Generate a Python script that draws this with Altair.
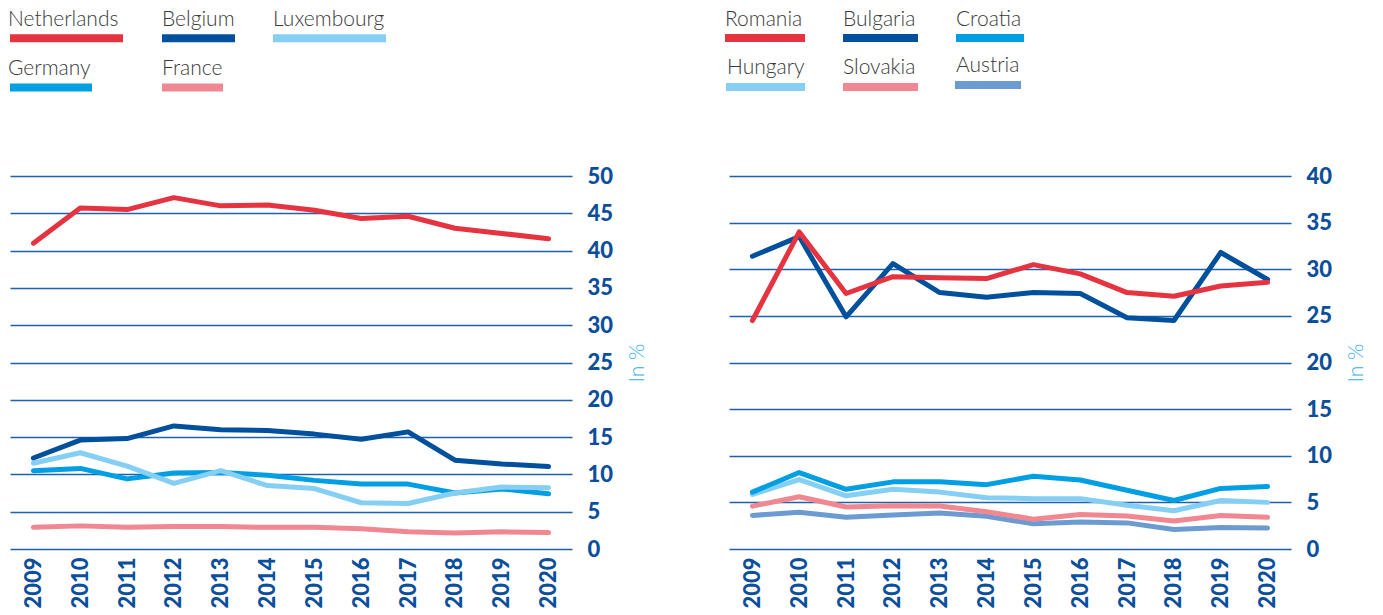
import altair as alt
import pandas as pd

years = [str(y) for y in range(2009, 2021)]

# Left panel (in %)
netherlands = [41.0, 45.7, 45.5, 47.1, 46.0, 46.1, 45.4, 44.3, 44.6, 43.0, 42.3, 41.6]
belgium = [12.2, 14.6, 14.8, 16.5, 16.0, 15.9, 15.4, 14.7, 15.7, 11.9, 11.4, 11.05]
luxembourg = [11.5, 12.9, 11.1, 8.8, 10.5, 8.5, 8.1, 6.2, 6.1, 7.5, 8.3, 8.2]
germany = [10.5, 10.8, 9.4, 10.2, 10.25, 9.9, 9.2, 8.7, 8.7, 7.5, 8.05, 7.4]
france = [2.9, 3.1, 2.9, 3.0, 3.0, 2.9, 2.9, 2.7, 2.3, 2.15, 2.3, 2.2]

# Right panel (in %)
romania = [24.5, 34.0, 27.4, 29.2, 29.1, 29.0, 30.5, 29.5, 27.5, 27.1, 28.2, 28.6]
bulgaria = [31.4, 33.5, 24.9, 30.6, 27.5, 27.0, 27.5, 27.4, 24.8, 24.5, 31.8, 28.9]
croatia = [6.1, 8.2, 6.4, 7.2, 7.2, 6.9, 7.8, 7.4, 6.3, 5.2, 6.5, 6.7]
hungary = [5.85, 7.45, 5.7, 6.4, 6.1, 5.5, 5.4, 5.4, 4.7, 4.1, 5.2, 5.0]
slovakia = [4.6, 5.6, 4.5, 4.65, 4.6, 4.0, 3.2, 3.7, 3.55, 3.0, 3.6, 3.4]
austria = [3.6, 3.95, 3.4, 3.65, 3.85, 3.5, 2.7, 2.9, 2.8, 2.1, 2.3, 2.25]

RED = "#E63340"
DARK = "#00509D"
LIGHT = "#84CFF3"
MID = "#009FE3"
PINK = "#F08791"
STEEL = "#6C9BD2"
AXIS_COLOR = "#0B4F9C"
GRID_COLOR = "#2160AA"
FONT = "Lato"

W, H = 562, 373


def panel(series, draw_order, ymax, legend_layout):
    rows = []
    for name, (vals, color) in series.items():
        for yr, v in zip(years, vals):
            rows.append({"year": yr, "country": name, "value": v})
    df = pd.DataFrame(rows)

    x_enc = alt.X(
        "year:O",
        scale=alt.Scale(type="point", padding=0.5),
        axis=alt.Axis(
            labelAngle=270, labelFont=FONT, labelFontSize=22, labelFontWeight=900,
            labelColor=AXIS_COLOR, domain=False, ticks=False, grid=False,
            labelPadding=8, title=None,
        ),
    )
    y_enc = alt.Y(
        "value:Q",
        scale=alt.Scale(domain=[0, ymax], nice=False, zero=True),
        axis=alt.Axis(
            orient="right", values=list(range(0, ymax + 1, 5)), grid=True,
            gridColor=GRID_COLOR, gridWidth=1.6, domain=False, ticks=False,
            tickSize=0, labelPadding=15, labelFont=FONT, labelFontSize=22,
            labelFontWeight=900, labelColor=AXIS_COLOR, title="In %",
            titleFont=FONT, titleFontSize=21, titleFontWeight=300,
            titleColor="#36B0E8", titleAngle=270, titlePadding=35,
        ),
    )

    layers = []
    for name in draw_order:
        color = series[name][1]
        layers.append(
            alt.Chart(df)
            .transform_filter(alt.datum.country == name)
            .mark_line(color=color, strokeWidth=5, strokeCap="round", strokeJoin="round")
            .encode(x=x_enc, y=y_enc)
        )

    leg_rows = []
    for name, tx, ty, bx, bx2, by in legend_layout:
        leg_rows.append({"name": name, "tx": tx, "ty": ty, "bx": bx, "bx2": bx2,
                         "by": by - 4, "by2": by + 4, "color": series[name][1]})
    ldf = pd.DataFrame(leg_rows)
    leg_text = alt.Chart(ldf).mark_text(
        font=FONT, fontSize=21, fontWeight=300, color="#3A3A3A",
        align="left", baseline="alphabetic",
    ).encode(
        x=alt.X("tx:Q", scale=None, axis=None),
        y=alt.Y("ty:Q", scale=None, axis=None),
        text="name:N",
    )
    leg_bar = alt.Chart(ldf).mark_rect().encode(
        x=alt.X("bx:Q", scale=None, axis=None),
        x2="bx2:Q",
        y=alt.Y("by:Q", scale=None, axis=None),
        y2="by2:Q",
        color=alt.Color("color:N", scale=None, legend=None),
    )
    return alt.layer(*layers, leg_text, leg_bar).properties(width=W, height=H)


left_series = {
    "Netherlands": (netherlands, RED),
    "Belgium": (belgium, DARK),
    "Luxembourg": (luxembourg, LIGHT),
    "Germany": (germany, MID),
    "France": (france, PINK),
}
right_series = {
    "Romania": (romania, RED),
    "Bulgaria": (bulgaria, DARK),
    "Croatia": (croatia, MID),
    "Hungary": (hungary, LIGHT),
    "Slovakia": (slovakia, PINK),
    "Austria": (austria, STEEL),
}

# legend layout: name, text x, text baseline y, bar x, bar x2, bar centre y (pixels relative to plot)
left_legend = [
    ("Netherlands", -2, -150, 0, 113, -137.7),
    ("Belgium", 152, -150, 152, 225, -137.7),
    ("Luxembourg", 263, -150, 263, 376, -137.7),
    ("Germany", -2, -101, 0, 82, -88.5),
    ("France", 152, -101, 152, 213, -88.5),
]
right_legend = [
    ("Romania", -4, -150, -4, 76, -138),
    ("Bulgaria", 114, -150, 114, 189, -138),
    ("Croatia", 227, -150, 227, 295, -138),
    ("Hungary", -2, -102, -3, 76, -89),
    ("Slovakia", 114, -102, 114, 189, -89),
    ("Austria", 227, -104, 226, 292, -91),
]

left = panel(left_series, ["France", "Germany", "Luxembourg", "Belgium", "Netherlands"], 50, left_legend)
right = panel(right_series, ["Austria", "Slovakia", "Hungary", "Croatia", "Bulgaria", "Romania"], 40, right_legend)

chart = (
    alt.hconcat(left, right, spacing=77)
    .properties(padding={"left": 0, "top": 1, "right": 0, "bottom": 0})
    .configure_view(stroke=None)
)

chart.save("out.html", embed_options={"renderer": "svg", "actions": False})
